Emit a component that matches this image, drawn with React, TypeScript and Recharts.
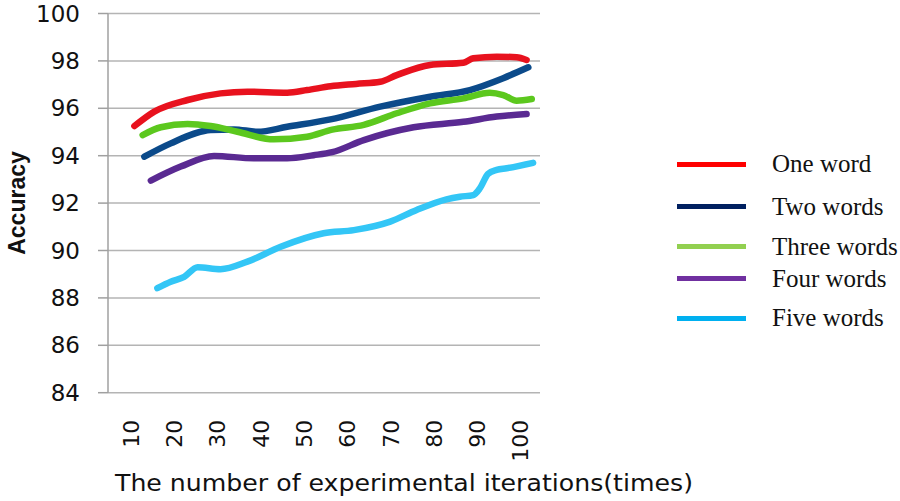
import React from "react";
import { LineChart, Line, XAxis, YAxis, CartesianGrid, Legend, Label } from "recharts";

const seriesNames = ["One word", "Two words", "Three words", "Four words", "Five words"];
const lineColors = ["#E8121E", "#0B4A8A", "#5CC81E", "#5A2A92", "#33C6F6"];
const legendColors = ["#FF0000", "#002060", "#92D050", "#7030A0", "#00B0F0"];

const xTicks = [10, 20, 30, 40, 50, 60, 70, 80, 90, 100];
const yTicks = [84, 86, 88, 90, 92, 94, 96, 98, 100];

const oneX = [10.8, 15.4, 23.1, 30.7, 36.9, 46.1, 50.7, 56.1, 62, 67.6, 71.4, 79.1, 86.8, 89.1, 94.5, 99.1, 101.4];
const oneY = [95.25, 95.86, 96.35, 96.63, 96.7, 96.66, 96.77, 96.93, 97.03, 97.12, 97.4, 97.83, 97.92, 98.11, 98.18, 98.15, 98.04];

const twoX = [13.1, 19.2, 28.4, 33.8, 39.2, 46.1, 56.1, 67.6, 79.1, 88.3, 96, 101.8];
const twoY = [93.96, 94.52, 95.08, 95.11, 95.01, 95.22, 95.53, 96.07, 96.49, 96.77, 97.27, 97.73];

const threeX = [12.7, 16.9, 23.1, 28.4, 34.6, 43.0, 50.7, 56.5, 63.8, 71.4, 79.1, 86.8, 92.9, 96, 99.1, 102.6];
const threeY = [94.87, 95.2, 95.34, 95.25, 95.01, 94.69, 94.8, 95.1, 95.3, 95.79, 96.21, 96.42, 96.66, 96.56, 96.32, 96.39];

const fourX = [14.6, 21.5, 29.2, 38.4, 46.1, 52.2, 56.5, 63.8, 75.3, 86.8, 94.5, 101.4];
const fourY = [92.95, 93.54, 93.99, 93.89, 93.89, 94.02, 94.15, 94.66, 95.2, 95.43, 95.65, 95.76];

const fiveX = [16.1, 19.2, 22.3, 25.4, 30.7, 36.9, 44.6, 54.5, 61.5, 69.9, 76.0, 82.9, 86.0, 89.1, 90.6, 92.5, 94.5, 96.8, 102.9];
const fiveY = [88.41, 88.68, 88.89, 89.29, 89.21, 89.53, 90.16, 90.73, 90.86, 91.22, 91.71, 92.16, 92.27, 92.34, 92.62, 93.23, 93.4, 93.47, 93.7];

const zip = (xs: number[], ys: number[]) => xs.map((x, i) => ({ x, y: ys[i] }));
const seriesData = [zip(oneX, oneY), zip(twoX, twoY), zip(threeX, threeY), zip(fourX, fourY), zip(fiveX, fiveY)];

const numFont = "'DejaVu Sans', sans-serif";

const XTick = (props: any) => {
  const { x, y, payload } = props;
  return (
    <g transform={`translate(${x},${y})`}>
      <text
        transform="rotate(-90)"
        x={-19}
        y={0}
        dy="0.36em"
        textAnchor="end"
        fontFamily={numFont}
        fontSize={22}
        fill="#111"
      >
        {payload.value}
      </text>
    </g>
  );
};

// vertical offsets of legend rows (px, relative to legend box top)
const legendRowTops = [0, 42.7, 82.4, 114.7, 154];

const LegendBox = () => (
  <div style={{ position: "relative", height: 195, fontFamily: "'Liberation Serif', 'Times New Roman', serif" }}>
    {seriesNames.map((name, i) => (
      <div
        key={name}
        style={{ position: "absolute", left: 0, top: legendRowTops[i], display: "flex", alignItems: "center", height: 38 }}
      >
        <div style={{ width: 69, height: 5, background: legendColors[i], marginRight: 26 }} />
        <span style={{ fontSize: 25, color: "#111", whiteSpace: "nowrap" }}>{name}</span>
      </div>
    ))}
  </div>
);

export default function App() {
  return (
    <div style={{ position: "absolute", left: 0, top: 0, background: "#fff" }}>
      <LineChart width={900} height={501} margin={{ top: 13.5, right: 360, bottom: 0, left: 0 }}>
        <CartesianGrid vertical={false} stroke="#B4B4B4" strokeWidth={1.5} />
        <XAxis
          dataKey="x"
          type="number"
          domain={[4.7, 104.5]}
          ticks={xTicks}
          allowDataOverflow
          height={108.3}
          axisLine={false}
          tickLine={false}
          tick={<XTick />}
          interval={0}
        >
          <Label
            content={() => (
              <text
                x={404}
                y={491}
                textAnchor="middle"
                fontFamily={numFont}
                fontSize={23}
                fill="#111"
                textLength={578}
                lengthAdjust="spacingAndGlyphs"
              >
                The number of experimental iterations(times)
              </text>
            )}
          />
        </XAxis>
        <YAxis
          type="number"
          domain={[84, 100]}
          ticks={yTicks}
          width={108}
          tickSize={10}
          tickMargin={18}
          axisLine={{ stroke: "#A0A0A0", strokeWidth: 1.5 }}
          tickLine={{ stroke: "#A0A0A0", strokeWidth: 1.5 }}
          tick={{ fontFamily: numFont, fontSize: 23, fill: "#111" }}
        >
          <Label
            content={() => (
              <text
                x={25}
                y={203}
                transform="rotate(-90, 25, 203)"
                textAnchor="middle"
                fontFamily="'Liberation Sans', Arial, sans-serif"
                fontWeight="bold"
                fontSize={23}
                fill="#111"
              >
                Accuracy
              </text>
            )}
          />
        </YAxis>
        <Legend
          layout="vertical"
          align="center"
          verticalAlign="middle"
          content={() => <LegendBox />}
          wrapperStyle={{ left: 677, top: 145.3, width: 223 }}
        />
        {seriesData.map((d, i) => (
          <Line
            key={seriesNames[i]}
            name={seriesNames[i]}
            data={d}
            dataKey="y"
            type="monotone"
            stroke={lineColors[i]}
            strokeWidth={6.5}
            strokeLinecap="round"
            strokeLinejoin="round"
            dot={false}
            activeDot={false}
            isAnimationActive={false}
          />
        ))}
      </LineChart>
    </div>
  );
}
